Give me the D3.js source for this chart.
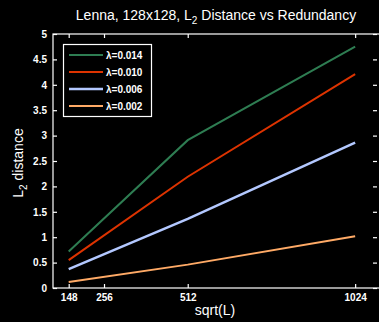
<!DOCTYPE html>
<html><head><meta charset="utf-8">
<script src="https://cdn.jsdelivr.net/npm/d3@7/dist/d3.min.js"></script>
<style>
html,body{margin:0;padding:0;background:#000;}
svg{display:block;}
text{font-family:"Liberation Sans",Arial,sans-serif;fill:#fff;}
</style></head>
<body>
<svg id="chart" width="379" height="322"></svg>
<script>
const xValues = [148, 512, 1024];
const seriesNames = ["λ=0.014", "λ=0.010", "λ=0.006", "λ=0.002"];
const seriesColors = ["#2e7d52", "#dd3300", "#b3c8ff", "#ffaa66"];
const s014 = [0.72, 2.91, 4.75];
const s010 = [0.55, 2.19, 4.21];
const s006 = [0.37, 1.36, 2.86];
const s002 = [0.12, 0.46, 1.02];
const seriesValues = [s014, s010, s006, s002];
const xTicks = [148, 256, 512, 1024];
const yTicks = [0, 0.5, 1, 1.5, 2, 2.5, 3, 3.5, 4, 4.5, 5];
const yTickLabels = ["0", "0.5", "1", "1.5", "2", "2.5", "3", "3.5", "4", "4.5", "5"];

const svg = d3.select("#chart");
const L = 53, R = 380, T = 34, B = 288;
const x = d3.scaleLinear().domain([100, 1100]).range([L, R]);
const y = d3.scaleLinear().domain([0, 5]).range([B, T]);

// frame
svg.append("rect").attr("x", L).attr("y", T).attr("width", R - L).attr("height", B - T)
  .attr("fill", "none").attr("stroke", "#fff").attr("stroke-width", 1.2);

// axes (inward ticks)
const fmtY = (d, i) => yTickLabels[i];
const gB = svg.append("g").attr("transform", `translate(0,${B})`)
  .call(d3.axisBottom(x).tickValues(xTicks).tickSize(-4).tickPadding(6).tickFormat(d3.format("d")));
const gT = svg.append("g").attr("transform", `translate(0,${T})`)
  .call(d3.axisTop(x).tickValues(xTicks).tickSize(-4).tickFormat(""));
const gL = svg.append("g").attr("transform", `translate(${L},0)`)
  .call(d3.axisLeft(y).tickValues(yTicks).tickSize(-4).tickPadding(6).tickFormat(fmtY));
const gR = svg.append("g").attr("transform", `translate(${R - 3},0)`)
  .call(d3.axisRight(y).tickValues(yTicks).tickSize(-4).tickFormat(""));
[gB, gT, gL, gR].forEach(g => {
  g.select(".domain").remove();
  g.selectAll(".tick line").attr("stroke", "#fff").attr("stroke-width", 1.2);
  g.selectAll("text").attr("fill", "#fff").style("font-size", "10px").style("font-weight", "bold")
    .style("font-family", "'Liberation Sans',Arial,sans-serif");
});

// lines
const line = d3.line().x((d, i) => x(xValues[i])).y(d => y(d));
seriesValues.forEach((vals, k) => {
  svg.append("path").datum(vals).attr("d", line).attr("fill", "none")
    .attr("stroke", seriesColors[k]).attr("stroke-width", k === 2 ? 2.5 : 2);
});

// legend
const lg = svg.append("g");
lg.append("rect").attr("x", 63.5).attr("y", 44.5).attr("width", 88).attr("height", 72)
  .attr("fill", "#000").attr("stroke", "#fff").attr("stroke-width", 1.2);
seriesNames.forEach((n, k) => {
  const yy = 55 + k * 17;
  lg.append("line").attr("x1", 69).attr("x2", 103).attr("y1", yy).attr("y2", yy)
    .attr("stroke", seriesColors[k]).attr("stroke-width", k === 2 ? 2.5 : 2);
  lg.append("text").attr("x", 106).attr("y", yy + 3.5).text(n)
    .style("font-size", "10px").style("font-weight", "bold");
});

// title
const title = svg.append("text").attr("x", 216).attr("y", 20).attr("text-anchor", "middle")
  .style("font-size", "14px");
title.append("tspan").text("Lenna, 128x128, L");
title.append("tspan").text("2").attr("dy", 4).style("font-size", "10px");
title.append("tspan").text(" Distance vs Redundancy").attr("dy", -4);

// y label
const yl = svg.append("text").attr("transform", "translate(23,163) rotate(-90)")
  .attr("text-anchor", "middle").style("font-size", "14px");
yl.append("tspan").text("L");
yl.append("tspan").text("2").attr("dy", 4).style("font-size", "10px");
yl.append("tspan").text(" distance").attr("dy", -4);

// x label
svg.append("text").attr("x", 215).attr("y", 315).attr("text-anchor", "middle")
  .style("font-size", "14px").text("sqrt(L)");
</script>
</body></html>
